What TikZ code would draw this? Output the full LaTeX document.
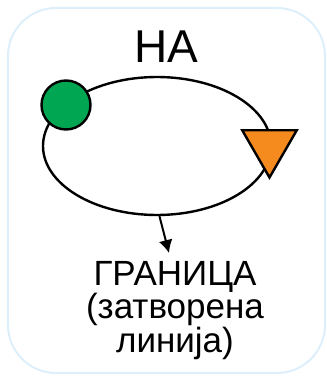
\documentclass[tikz,border=0pt]{standalone}
\usepackage{fontspec}
\setmainfont{Liberation Sans}
\usetikzlibrary{shapes.geometric, arrows.meta, positioning}
\definecolor{framesky}{HTML}{DDEFFB}
\definecolor{startgreen}{HTML}{00A651}
\definecolor{endorange}{HTML}{F58A1F}

\begin{document}
\begin{tikzpicture}[x=1pt, y=1pt,
  frame/.style={draw=framesky, line width=2pt, rounded corners=48pt},
  loop/.style={ellipse, draw, line width=2.4pt, minimum width=228pt, minimum height=138pt, inner sep=0pt},
  startdot/.style={circle, draw, line width=2.4pt, fill=startgreen, minimum size=49pt, inner sep=0pt},
  enddot/.style={regular polygon, regular polygon sides=3, shape border rotate=180, draw, line width=2.4pt, fill=endorange, minimum size=63pt, inner sep=0pt},
  arrowline/.style={-{Latex[length=13pt, width=14pt]}, line width=2pt},
  caption/.style={font=\fontsize{35}{32}\selectfont, align=center, inner sep=0pt}
]
  \useasboundingbox (0,0) rectangle (327,376);
  \draw[frame] (8,3) rectangle (325,368);

  \node[font=\fontsize{46}{46}\selectfont, inner sep=0pt, anchor=base] (on) at (166,313) {НА};
  \node[loop] (boundary) at (157,230) {};
  \node[startdot] (start) at (66,271) {};
  \node[enddot] (finish) at (269.5,230) {};

  \node[caption, anchor=north] (label) at (175,115) {ГРАНИЦА\\(затворена\\линија)};
  \coordinate (tip) at (169,123);
  \draw[arrowline] (boundary.272) -- (tip);
\end{tikzpicture}
\end{document}
